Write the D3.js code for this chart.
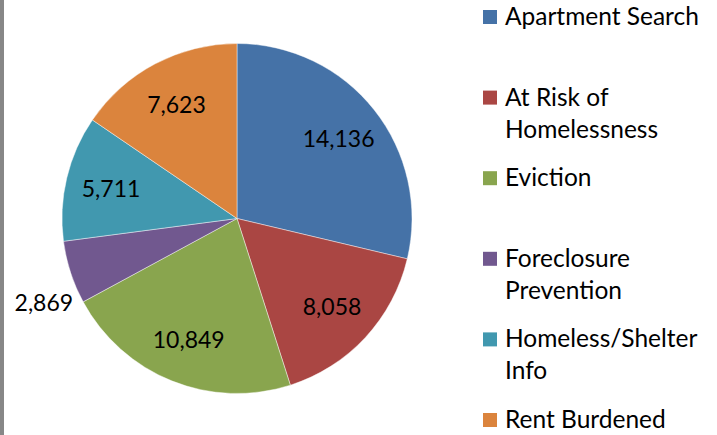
<!DOCTYPE html>
<html>
<head>
<meta charset="utf-8">
<script src="https://cdn.jsdelivr.net/npm/d3@7"></script>
<style>
  body { margin: 0; background: #fff; }
  svg { display: block; font-family: Lato, "Noto Sans", sans-serif; }
</style>
</head>
<body>
<div id="chart"></div>
<script>
const categories = [
  ["Apartment Search"],
  ["At Risk of", "Homelessness"],
  ["Eviction"],
  ["Foreclosure", "Prevention"],
  ["Homeless/Shelter", "Info"],
  ["Rent Burdened"],
];
const values = [14136, 8058, 10849, 2869, 5711, 7623];
const colors = ["#4572A7", "#AA4643", "#89A54E", "#71588F", "#4198AF", "#DB843D"];

const width = 717,
  height = 435;
const cx = 237,
  cy = 218.5,
  radius = 175;

const svg = d3
  .select("#chart")
  .append("svg")
  .attr("width", width)
  .attr("height", height);

// grey frame edge on the left
svg
  .append("rect")
  .attr("x", 0)
  .attr("y", 0)
  .attr("width", 4)
  .attr("height", height)
  .attr("fill", "#878787");

const pie = d3.pie().sort(null).value((d) => d);
const arcs = pie(values);
const arc = d3.arc().innerRadius(0).outerRadius(radius);
const labelArc = d3.arc().innerRadius(radius * 0.74).outerRadius(radius * 0.74);

const g = svg.append("g").attr("transform", `translate(${cx},${cy})`);

g.selectAll("path.slice")
  .data(arcs)
  .enter()
  .append("path")
  .attr("class", "slice")
  .attr("d", arc)
  .attr("fill", (d, i) => colors[i])
  .attr("stroke", "#fff")
  .attr("stroke-opacity", 0.55)
  .attr("stroke-width", 0.8);

const fmt = d3.format(",");
// small slices get their label outside, next to the rim
const small = (d) => d.endAngle - d.startAngle < 0.5;

g.selectAll("text.value")
  .data(arcs)
  .enter()
  .append("text")
  .attr("class", "value")
  .attr("font-size", 23)
  .attr("fill", "#000")
  .attr("dominant-baseline", "central")
  .attr("text-anchor", (d) => (small(d) ? "end" : "middle"))
  .attr("transform", (d) => {
    if (small(d)) {
      const a = d.startAngle;
      return `translate(${Math.sin(a) * radius - 10},${-Math.cos(a) * radius})`;
    }
    const [x, y] = labelArc.centroid(d);
    return `translate(${x},${y})`;
  })
  .text((d) => fmt(d.data));

// legend
const rowY = d3.scalePoint().domain(d3.range(categories.length)).range([17, 420]);

const legend = svg
  .selectAll("g.legend")
  .data(categories)
  .enter()
  .append("g")
  .attr("class", "legend")
  .attr("transform", (d, i) => `translate(483,${rowY(i)})`);

legend
  .append("rect")
  .attr("x", 0)
  .attr("y", -7)
  .attr("width", 14)
  .attr("height", 14)
  .attr("fill", (d, i) => colors[i]);

legend
  .append("text")
  .attr("font-size", 24.5)
  .attr("fill", "#000")
  .selectAll("tspan")
  .data((d) => d)
  .enter()
  .append("tspan")
  .attr("x", 22)
  .attr("y", (d, j) => 8 + j * 32)
  .text((d) => d);
</script>
</body>
</html>
